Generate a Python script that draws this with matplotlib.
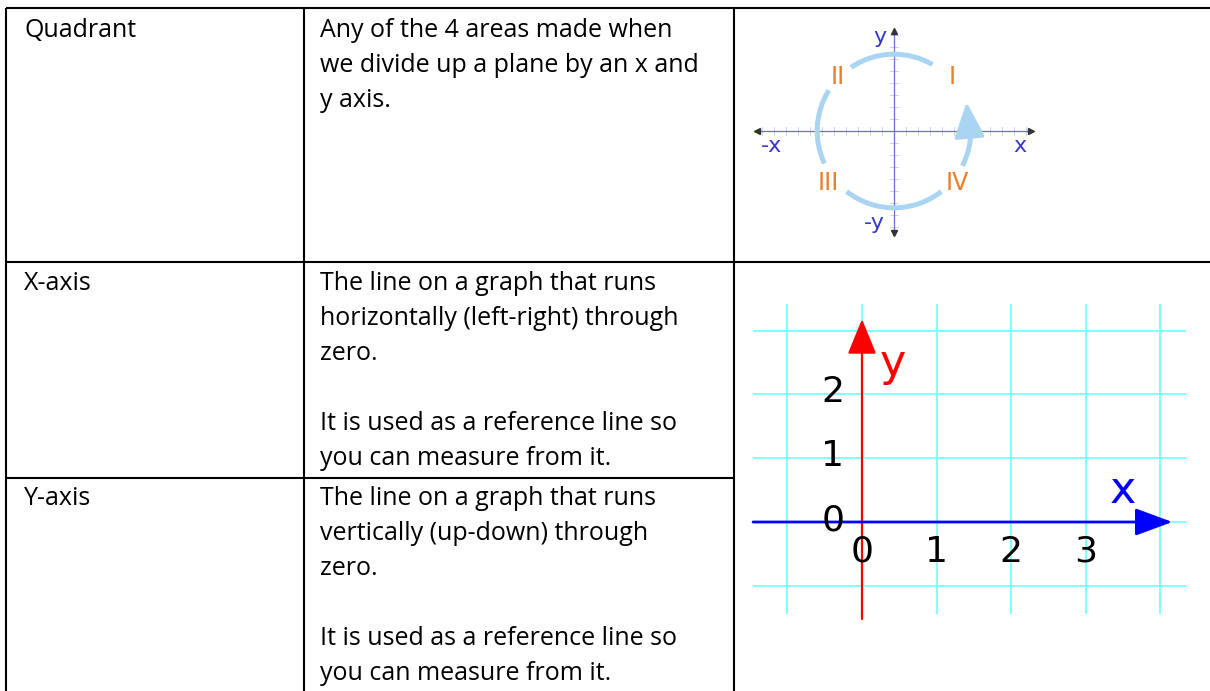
import numpy as np
import matplotlib.pyplot as plt
from matplotlib.patches import Arc, FancyArrowPatch

W, H = 1210, 691

# ---- table text ----
terms = ["Quadrant", "X-axis", "Y-axis"]
definitions = [
    ["Any of the 4 areas made when",
     "we divide up a plane by an x and",
     "y axis."],
    ["The line on a graph that runs",
     "horizontally (left-right) through",
     "zero.", "",
     "It is used as a reference line so",
     "you can measure from it."],
    ["The line on a graph that runs",
     "vertically (up-down) through",
     "zero.", "",
     "It is used as a reference line so",
     "you can measure from it."],
]

# ---- quadrant picture ----
quad_labels = ["I", "II", "III", "IV"]
quad_label_xy = [(4.83, 4.5), (-4.67, 4.5), (-5.5, -4.3), (5.25, -4.35)]
axis_labels = ["x", "-x", "y", "-y"]
axis_label_xy = [(10.5, -1.25), (-10.2, -1.25), (-1.15, 7.85), (-1.6, -7.7)]
arc_spans = [(60, 124), (148, 205), (232, 308), (333, 362)]
arrow_tail = (6.3, -0.6)
arrow_tip = (6.05, 2.4)
circle_r = 6.4
tick_vals_x = [t for t in range(-11, 12) if t != 0]
tick_vals_y = [t for t in range(-8, 9) if t != 0]

# ---- x/y axes picture ----
grid_x = [-1, 0, 1, 2, 3, 4]
grid_y = [-1, 0, 1, 2, 3]
x_tick_labels = [0, 1, 2, 3]
y_tick_labels = [0, 1, 2]

plt.rcParams["font.family"] = ["Open Sans", "DejaVu Sans"]
fig = plt.figure(figsize=(W / 100, H / 100), dpi=100)


def px_axes(x0, y0, x1, y1):
    a = fig.add_axes([x0 / W, 1 - y1 / H, (x1 - x0) / W, (y1 - y0) / H])
    a.set_axis_off()
    return a


# table frame, drawn in pixel coords
ax = px_axes(0, 0, W, H)
ax.set_xlim(0, W)
ax.set_ylim(H, 0)
lw = 1.5
ax.hlines([8, 262], 6, W, color="black", lw=lw)
ax.hlines(478, 6, 734, color="black", lw=lw)
ax.vlines([6, 304, 734], 8, H, color="black", lw=lw)

first_baseline = [37, 290, 505]
for term, lines, y0 in zip(terms, definitions, first_baseline):
    ax.text(24, y0, term, fontsize=18, va="baseline", ha="left")
    for i, line in enumerate(lines):
        if line:
            ax.text(320, y0 + 35 * i, line, fontsize=18, va="baseline", ha="left")

# quadrant diagram (1 unit = 12 px, origin at 894,131)
aq = px_axes(745, 22, 1045, 242)
aq.set_xlim((745 - 894) / 12, (1045 - 894) / 12)
aq.set_ylim((131 - 242) / 12, (131 - 22) / 12)

axis_col = "#6f6fd2"
aq.plot([-11.3, 11.3], [0, 0], color=axis_col, lw=0.9, zorder=2)
aq.plot([0, 0], [-8.4, 8.25], color=axis_col, lw=0.9, zorder=2)
for t in tick_vals_x:
    aq.plot([t, t], [-0.3, 0.3], color="#c8c8ec", lw=0.6, zorder=1)
for t in tick_vals_y:
    aq.plot([-0.3, 0.3], [t, t], color="#c8c8ec", lw=0.6, zorder=1)
aq.plot([11.4], [0], marker=">", color="#333333", ms=5)
aq.plot([-11.4], [0], marker="<", color="#333333", ms=5)
aq.plot([0], [8.35], marker="^", color="#333333", ms=5)
aq.plot([0], [-8.5], marker="v", color="#333333", ms=5)

arc_col = "#a9d5f2"
for a0, a1 in arc_spans:
    aq.add_patch(Arc((0, 0), 2 * circle_r, 2 * circle_r, theta1=a0, theta2=a1,
                     color=arc_col, lw=3.6, zorder=3))
aq.add_patch(FancyArrowPatch(arrow_tail, arrow_tip,
                             arrowstyle="-|>,head_length=2.2,head_width=0.95",
                             mutation_scale=10, color=arc_col, lw=2.5, zorder=3,
                             shrinkA=0, shrinkB=0))

for lab, (x, y) in zip(quad_labels, quad_label_xy):
    aq.text(x, y, lab, color="#ee7d2a", fontsize=17, ha="center", va="center",
            family=["Liberation Sans Narrow", "DejaVu Sans"])
for lab, (x, y) in zip(axis_labels, axis_label_xy):
    aq.text(x, y, lab, color="#3838cc", fontsize=16, ha="center", va="center",
            family=["DejaVu Sans"])

# x / y axes diagram (origin at 862,522; 74.6 px per x unit, 63.8 per y unit)
ag = px_axes(745, 290, 1200, 640)
ux, uy = 74.6, 63.8
ag.set_xlim((745 - 862) / ux, (1200 - 862) / ux)
ag.set_ylim((522 - 640) / uy, (522 - 290) / uy)

grid_col = "#80ffff"
ag.vlines(grid_x, -1.44, 3.42, color=grid_col, lw=1.4, zorder=1)
ag.hlines(grid_y, -1.46, 4.34, color=grid_col, lw=1.4, zorder=1)

ag.add_patch(FancyArrowPatch((0, -1.52), (0, 3.18), arrowstyle="-|>,head_length=2.2,head_width=0.9",
                             mutation_scale=10, color="#ff0000", lw=1.6, zorder=3,
                             shrinkA=0, shrinkB=0))
ag.add_patch(FancyArrowPatch((-1.46, 0), (4.16, 0), arrowstyle="-|>,head_length=2.3,head_width=0.85",
                             mutation_scale=10, color="#0000ff", lw=2.0, zorder=3,
                             shrinkA=0, shrinkB=0))

digit_font = ["DejaVu Sans"]
for v in y_tick_labels:
    ag.text(-0.39, v + 0.03, str(v), fontsize=26, ha="center", va="center",
            family=digit_font, zorder=4)
for v in x_tick_labels:
    ag.text(v, -0.47, str(v), fontsize=26, ha="center", va="center",
            family=digit_font, zorder=4)
ag.text(0.42, 2.48, "y", color="#ff0000", fontsize=32, ha="center", va="center",
        family=digit_font, zorder=4)
ag.text(3.5, 0.5, "x", color="#0000ff", fontsize=32, ha="center", va="center",
        family=digit_font, zorder=4)

fig.savefig("out.png", dpi=100)
